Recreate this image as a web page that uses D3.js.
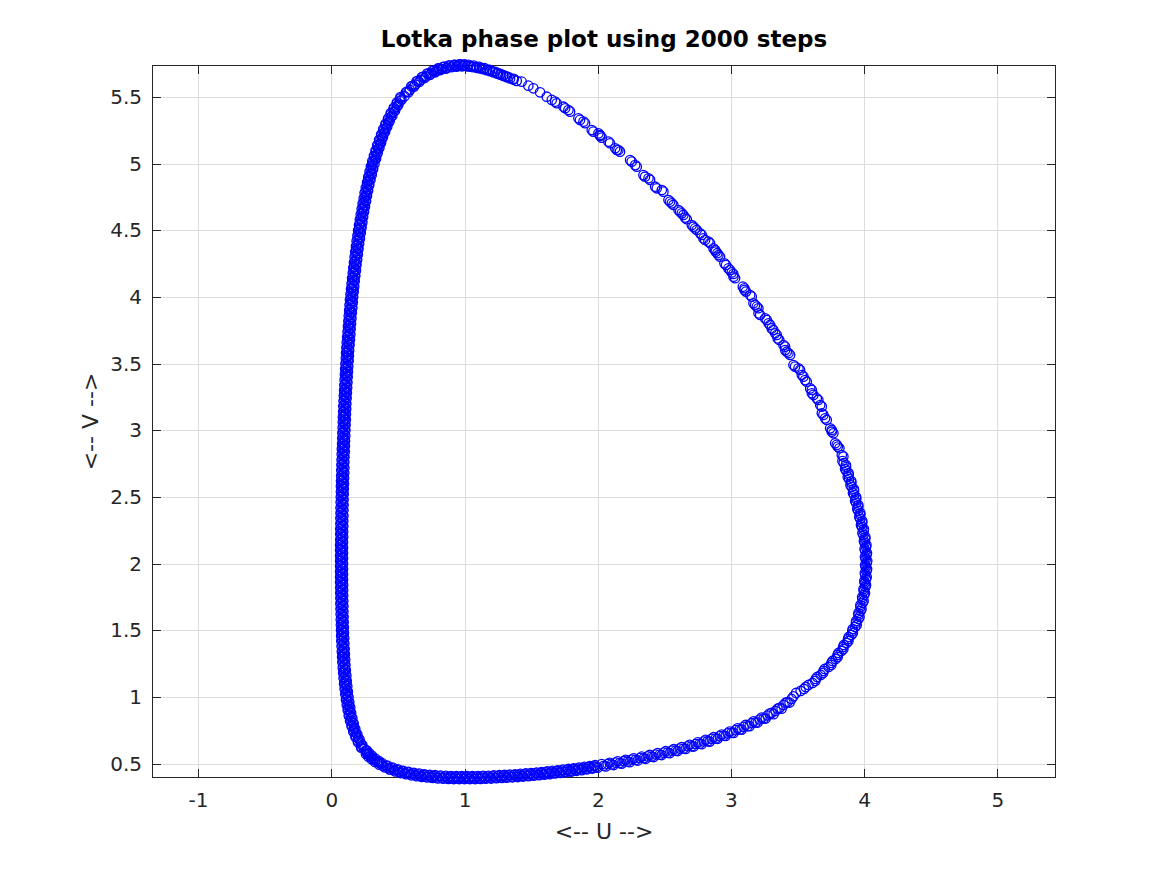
<!DOCTYPE html>
<html><head><meta charset="utf-8">
<script src="https://cdn.jsdelivr.net/npm/d3@7"></script>
<style>body{margin:0;background:#fff}svg{display:block}</style>
</head><body>
<svg id="chart" width="1167" height="875"></svg>
<script>
// ---- text / ticks ----
const titleText = "Lotka phase plot using 2000 steps";
const xLabelText = "<-- U -->";
const yLabelText = "<-- V -->";
const xTicks = [-1, 0, 1, 2, 3, 4, 5];
const yTicks = [0.5, 1, 1.5, 2, 2.5, 3, 3.5, 4, 4.5, 5, 5.5];
const xDomain = [-1.346, 5.44];
const yDomain = [0.392, 5.741];

// ---- data: (U, V) points, by part of the orbit ----
// left branch (V falling), first pass
const vLeft = [5.00,4.98,4.96,4.94,4.92,4.90,4.88,4.86,4.84,4.82,
4.80,4.78,4.76,4.74,4.72,4.70,4.68,4.66,4.64,4.62,
4.60,4.58,4.56,4.54,4.52,4.50,4.48,4.46,4.44,4.42,
4.40,4.38,4.36,4.34,4.32,4.30,4.28,4.26,4.24,4.22,
4.20,4.18,4.16,4.14,4.12,4.10,4.08,4.06,4.04,4.02,
4.00,3.98,3.96,3.94,3.92,3.90,3.88,3.86,3.84,3.82,
3.80,3.78,3.76,3.74,3.72,3.70,3.68,3.66,3.64,3.62,
3.60,3.58,3.56,3.54,3.52,3.50,3.48,3.46,3.44,3.42,
3.40,3.38,3.36,3.34,3.32,3.30,3.28,3.26,3.24,3.22,
3.20,3.18,3.16,3.14,3.12,3.10,3.08,3.06,3.04,3.02,
3.00,2.98,2.96,2.94,2.92,2.90,2.88,2.86,2.84,2.82,
2.80,2.78,2.76,2.74,2.72,2.70,2.68,2.66,2.64,2.62,
2.60,2.58,2.56,2.54,2.52,2.50,2.48,2.46,2.44,2.42,
2.40,2.38,2.36,2.34,2.32,2.30,2.28,2.26,2.24,2.22,
2.20,2.18,2.16,2.14,2.12,2.10,2.08,2.06,2.04,2.02,
2.00,1.98,1.96,1.94,1.92,1.90,1.88,1.86,1.84,1.82,
1.80,1.78,1.76,1.74,1.72,1.70,1.68,1.66,1.64,1.62,
1.60,1.58,1.56,1.54,1.52,1.50,1.48,1.46,1.44,1.42,
1.40,1.38,1.36,1.34,1.32,1.30,1.28,1.26,1.24,1.22,
1.20,1.18,1.16,1.14,1.12,1.10,1.08,1.06,1.04,1.02,
1.00,0.98,0.96,0.94,0.92,0.90,0.88,0.86,0.84,0.82,
0.80,0.78,0.76,0.74,0.72,0.70,0.68,0.66,0.64,0.62,
0.60];
const uLeft = [.324,.297,.314,.287,.304,.277,.294,.268,.285,.259,
.276,.250,.268,.243,.261,.235,.253,.228,.246,.221,
.239,.214,.233,.208,.227,.201,.221,.196,.215,.190,
.209,.185,.204,.180,.199,.175,.194,.170,.189,.165,
.185,.161,.180,.156,.176,.152,.172,.148,.168,.144,
.164,.140,.161,.137,.158,.134,.154,.131,.151,.128,
.148,.125,.145,.122,.143,.119,.140,.116,.137,.113,
.134,.111,.132,.109,.130,.106,.127,.104,.125,.102,
.123,.100,.121,.098,.119,.096,.117,.094,.115,.092,
.113,.090,.112,.089,.110,.087,.109,.086,.107,.085,
.106,.083,.105,.082,.103,.081,.102,.079,.101,.078,
.099,.077,.098,.076,.098,.075,.097,.074,.096,.073,
.095,.072,.094,.072,.093,.071,.092,.070,.092,.069,
.091,.069,.091,.068,.090,.068,.090,.067,.089,.067,
.089,.067,.088,.066,.088,.066,.088,.066,.088,.066,
.088,.066,.088,.066,.088,.066,.088,.066,.089,.067,
.089,.067,.089,.068,.090,.068,.091,.069,.091,.070,
.092,.071,.093,.072,.094,.073,.095,.074,.097,.075,
.098,.077,.100,.079,.102,.081,.104,.083,.106,.086,
.109,.089,.113,.092,.116,.096,.120,.100,.124,.105,
.129,.110,.135,.116,.142,.123,.149,.131,.158,.141,
.168,.152,.180,.165,.195,.181,.212,.200,.233,.224,
.261];
// left branch, second pass (later loop)
const vLeft2 = [4.99,4.97,4.95,4.93,4.91,4.89,4.87,4.85,4.83,4.81,
4.79,4.77,4.75,4.73,4.71,4.69,4.67,4.65,4.63,4.61,
4.59,4.57,4.55,4.53,4.51,4.49,4.47,4.45,4.43,4.41,
4.39,4.37,4.35,4.33,4.31,4.29,4.27,4.25,4.23,4.21,
4.19,4.17,4.15,4.13,4.11,4.09,4.07,4.05,4.03,4.01,
3.99,3.97,3.95,3.93,3.91,3.89,3.87,3.85,3.83,3.81,
3.79,3.77,3.75,3.73,3.71,3.69,3.67,3.65,3.63,3.61,
3.59,3.57,3.55,3.53,3.51,3.49,3.47,3.45,3.43,3.41,
3.39,3.37,3.35,3.33,3.31,3.29,3.27,3.25,3.23,3.21,
3.19,3.17,3.15,3.13,3.11,3.09,3.07,3.05,3.03,3.01,
2.99,2.97,2.95,2.93,2.91,2.89,2.87,2.85,2.83,2.81,
2.79,2.77,2.75,2.73,2.71,2.69,2.67,2.65,2.63,2.61,
2.59,2.57,2.55,2.53,2.51,2.49,2.47,2.45,2.43,2.41,
2.39,2.37,2.35,2.33,2.31,2.29,2.27,2.25,2.23,2.21,
2.19,2.17,2.15,2.13,2.11,2.09,2.07,2.05,2.03,2.01,
1.99,1.97,1.95,1.93,1.91,1.89,1.87,1.85,1.83,1.81,
1.79,1.77,1.75,1.73,1.71,1.69,1.67,1.65,1.63,1.61,
1.59,1.57,1.55,1.53,1.51,1.49,1.47,1.45,1.43,1.41,
1.39,1.37,1.35,1.33,1.31,1.29,1.27,1.25,1.23,1.21,
1.19,1.17,1.15,1.13,1.11,1.09,1.07,1.05,1.03,1.01,
0.99,0.97,0.95,0.93,0.91,0.89,0.87,0.85,0.83,0.81,
0.79,0.77,0.75,0.73,0.71,0.69,0.67,0.65,0.63,0.61];
const uLeft2 = [.306,.311,.296,.301,.286,.291,.276,.282,.267,.273,
.258,.264,.251,.257,.243,.249,.236,.242,.229,.235,
.222,.229,.216,.223,.209,.216,.204,.211,.198,.205,
.192,.200,.187,.195,.182,.190,.177,.185,.172,.180,
.168,.176,.163,.171,.159,.167,.155,.163,.151,.159,
.147,.156,.144,.153,.141,.149,.138,.146,.135,.143,
.132,.140,.129,.138,.126,.135,.123,.132,.120,.129,
.118,.127,.116,.125,.113,.122,.111,.120,.109,.118,
.107,.116,.105,.114,.103,.112,.101,.110,.099,.108,
.097,.106,.096,.105,.094,.103,.093,.102,.091,.101,
.090,.099,.089,.098,.087,.097,.086,.095,.085,.094,
.083,.093,.082,.092,.082,.091,.081,.090,.080,.089,
.079,.088,.078,.088,.077,.087,.076,.086,.076,.085,
.075,.085,.075,.084,.074,.084,.074,.083,.073,.083,
.073,.083,.072,.082,.072,.082,.072,.082,.072,.082,
.072,.082,.072,.082,.072,.082,.072,.083,.073,.083,
.073,.083,.074,.084,.074,.085,.075,.085,.076,.086,
.077,.087,.078,.088,.079,.089,.080,.091,.081,.092,
.083,.094,.085,.096,.087,.098,.089,.100,.091,.103,
.094,.106,.098,.109,.101,.113,.105,.117,.110,.122,
.115,.128,.121,.134,.128,.141,.135,.150,.145,.160,
.155,.171,.168,.185,.183,.202,.201,.222,.224,.248];

// bottom-left corner and bottom branch (U rising)
const uBottom = [.267,.260,.285,.279,.306,.302,.330,.328,.359,.360,
0.38,0.40,0.42,0.44,0.46,0.48,0.50,0.52,0.54,0.56,
0.58,0.60,0.62,0.64,0.66,0.68,0.70,0.72,0.74,0.76,
0.78,0.80,0.82,0.84,0.86,0.88,0.90,0.92,0.94,0.96,
0.98,1.00,1.02,1.04,1.06,1.08,1.10,1.12,1.14,1.16,
1.18,1.20,1.22,1.24,1.26,1.28,1.30,1.32,1.34,1.36,
1.38,1.40,1.42,1.44,1.46,1.48,1.50,1.52,1.54,1.56,
1.58,1.60,1.62,1.64,1.66,1.68,1.70,1.72,1.74,1.76,
1.78,1.80,1.82,1.84,1.86,1.88,1.90,1.92,1.94,1.96,
1.98,2.00,
2.03,2.06,2.09,2.12,2.15,2.18,2.21,2.24,2.27,2.30,
2.33,2.36,2.39,2.42,2.45,2.48,2.51,2.54,2.57,2.60,
2.63,2.66,2.69,2.72,2.75,2.78,2.81,2.84,2.87,2.90,
2.93,2.96,2.99,3.02,3.05,3.08,3.11,3.14,3.17,3.20,
3.23,3.26,3.29,
3.32,3.35,3.38,3.41,3.44,3.47];
const vBottom = [.598,.572,.578,.552,.558,.532,.538,.512,.518,.492,
.504,.472,.485,.455,.470,.441,.457,.429,.446,.420,
.438,.412,.431,.406,.425,.400,.420,.396,.416,.392,
.413,.389,.410,.387,.408,.385,.407,.384,.406,.384,
.406,.384,.406,.384,.406,.384,.407,.385,.408,.387,
.409,.388,.411,.390,.413,.392,.415,.394,.417,.397,
.420,.399,.423,.403,.426,.406,.429,.409,.433,.413,
.437,.417,.441,.421,.446,.426,.450,.430,.455,.435,
.460,.440,.465,.446,.470,.451,.476,.457,.482,.463,
.488,.469,
.496,.479,.506,.489,.517,.500,.528,.511,.539,.523,
.552,.536,.565,.549,.579,.564,.593,.578,.608,.594,
.624,.610,.641,.628,.659,.646,.678,.665,.698,.686,
.718,.707,.740,.730,.765,.755,.790,.781,.817,.808,
.845,.838,.875,
.871,.912,.912,.957,.958,1.005];
// bottom, second pass
const uBottom2 = [.263,.272,.282,.292,.304,.316,.329,.344,.359,.373,
0.39,0.41,0.43,0.45,0.47,0.49,0.51,0.53,0.55,0.57,
0.59,0.61,0.63,0.65,0.67,0.69,0.71,0.73,0.75,0.77,
0.79,0.81,0.83,0.85,0.87,0.89,0.91,0.93,0.95,0.97,
0.99,1.01,1.03,1.05,1.07,1.09,1.11,1.13,1.15,1.17,
1.19,1.21,1.23,1.25,1.27,1.29,1.31,1.33,1.35,1.37,
1.39,1.41,1.43,1.45,1.47,1.49,1.51,1.53,1.55,1.57,
1.59,1.61,1.63,1.65,1.67,1.69,1.71,1.73,1.75,1.77,
1.79,1.81,1.83,1.85,1.87,1.89,1.91,1.93,1.95,1.97,
1.99,
2.045,2.075,2.105,2.135,2.165,2.195,2.225,2.255,2.285,2.315,
2.345,2.375,2.405,2.435,2.465,2.495,2.525,2.555,2.585,2.615,
2.645,2.675,2.705,2.735,2.765,2.795,2.825,2.855,2.885,2.915,
2.945,2.975,3.005,3.035,3.065,3.095,3.125,3.155,3.185,3.215,
3.245,3.275,
3.305,3.335,3.365,3.395,3.425,3.455];
const vBottom2 = [.585,.575,.565,.555,.545,.535,.525,.515,.505,.497,
.483,.484,.465,.467,.450,.454,.438,.443,.428,.434,
.420,.426,.413,.420,.408,.415,.403,.411,.399,.407,
.396,.405,.394,.403,.392,.401,.391,.400,.390,.400,
.390,.400,.390,.400,.390,.401,.391,.402,.392,.403,
.394,.404,.395,.406,.397,.408,.399,.411,.402,.413,
.405,.416,.408,.419,.411,.423,.414,.426,.418,.430,
.422,.434,.426,.438,.431,.443,.435,.448,.440,.453,
.445,.458,.450,.463,.456,.469,.461,.474,.467,.480,
.474,
.484,.497,.494,.507,.504,.518,.516,.530,.528,.542,
.540,.554,.553,.568,.567,.582,.582,.597,.597,.613,
.613,.630,.630,.647,.649,.666,.668,.686,.688,.706,
.709,.727,.731,.751,.756,.776,.781,.803,.808,.831,
.838,.861,
.880,.895,.918,.940,.962,.985];

// right branch (V rising)
const vRight = [1.03,1.06,1.09,1.12,1.15,1.18,1.21,1.24,1.27,1.30,
1.33,1.36,1.39,1.42,1.45,1.48,1.51,1.54,1.57,1.60,
1.63,1.66,1.69,1.72,1.75,1.78,1.81,1.84,1.87,1.90,
1.93,1.96,1.99,2.02,2.05,2.08,2.11,2.14,2.17,2.20,
2.23,2.26,2.29,2.32,2.35,2.38,2.41,2.44,2.47,2.50,
2.53,2.56,2.59,2.62,2.65,2.68,2.71,2.74,2.77];
const uRight = [3.489,3.548,3.582,3.633,3.647,3.692,3.704,3.753,3.762,3.801,
3.807,3.844,3.848,3.882,3.884,3.915,3.914,3.944,3.940,3.965,
3.957,3.980,3.972,3.996,3.985,4.006,3.995,4.014,4.001,4.019,
4.005,4.022,4.007,4.023,4.006,4.021,4.003,4.017,3.998,4.009,
3.987,3.998,3.976,3.986,3.963,3.971,3.948,3.956,3.932,3.940,
3.916,3.923,3.897,3.903,3.877,3.883,3.857,3.863,3.837];
const vRight2 = [1.045,1.075,1.105,1.135,1.165,1.195,1.225,1.255,1.285,1.315,
1.345,1.375,1.405,1.435,1.465,1.495,1.525,1.555,1.585,1.615,
1.645,1.675,1.705,1.735,1.765,1.795,1.825,1.855,1.885,1.915,
1.945,1.975,2.005,2.035,2.065,2.095,2.125,2.155,2.185,2.215,
2.245,2.275,2.305,2.335,2.365,2.395,2.425,2.455,2.485,2.515,
2.545,2.575,2.605,2.635,2.665,2.695,2.725,2.755];
const uRight2 = [3.523,3.561,3.612,3.636,3.674,3.694,3.733,3.754,3.786,3.800,
3.830,3.842,3.869,3.879,3.904,3.911,3.933,3.938,3.957,3.957,
3.973,3.972,3.988,3.987,4.000,3.997,4.009,4.004,4.014,4.008,
4.018,4.011,4.019,4.011,4.018,4.008,4.014,4.004,4.008,3.994,
3.997,3.983,3.985,3.971,3.971,3.956,3.956,3.940,3.940,3.924,
3.924,3.906,3.904,3.886,3.884,3.866,3.864,3.846];

// upper-right diagonal (sparser markers), towards the peak
const uDiag = [3.844,3.814,3.794,3.769,3.757,3.719,3.694,3.682,3.656,3.619,
3.607,3.569,3.544,3.519,3.481,3.444,3.419,3.406,3.363,3.344,
3.318,3.294,3.269,3.219,3.206,3.181,3.156,3.113,3.101,3.031,
3.018,2.993,2.963,2.918,2.898,2.881,2.843,2.806,2.781,2.743,
2.718,2.668,2.643,2.618,2.568,2.543,2.493,2.443,2.393,2.355,
2.293,2.255,2.167,2.143,2.092,2.030,2.017,1.967,1.905,1.867,
1.792,1.755,1.692,1.655,1.617,1.567,1.517,1.479,1.429,1.392,
1.366,1.342,1.317,1.291,1.267,1.242,1.216,1.192,1.167,1.141,
1.116,1.092,1.066,1.041,1.017,
1.03,1.07,1.11,1.15,1.19,1.23,1.27,1.31];
const vDiag = [2.803,2.866,2.891,2.978,3.003,3.078,3.116,3.178,3.228,3.266,
3.303,3.365,3.403,3.453,3.478,3.566,3.590,3.628,3.678,3.716,
3.753,3.791,3.828,3.866,3.916,3.941,4.003,4.041,4.066,4.141,
4.173,4.203,4.241,4.303,4.329,4.353,4.404,4.428,4.466,4.503,
4.528,4.584,4.616,4.641,4.691,4.716,4.791,4.816,4.879,4.903,
4.978,5.016,5.091,5.104,5.154,5.196,5.216,5.241,5.304,5.329,
5.391,5.416,5.454,5.479,5.503,5.536,5.566,5.586,5.616,5.622,
5.632,5.640,5.649,5.659,5.668,5.677,5.686,5.695,5.702,5.709,
5.715,5.720,5.725,5.728,5.731,
5.742,5.737,5.728,5.717,5.705,5.690,5.674,5.657];
const uDiag2 = [3.832,3.802,3.782,3.757,3.745,3.707,3.682,3.670,3.644,3.607,
3.595,3.557,3.532,3.507,3.469,3.432,3.407,3.394,3.351,3.332,
3.306,3.282,3.257,3.207,3.194,3.169,3.144,3.101,3.089,3.019,
3.006,2.981,2.951,2.906,2.886,2.869,2.831,2.794,2.769,2.731,
2.706,2.656,2.631,2.606,2.556,2.531,2.481,2.431,2.381,2.343,
2.281,2.243,2.155,2.131,2.080,2.018,2.005,1.955,1.893,1.855,
1.780,1.743,1.680,
1.005,1.05,1.09,1.13,1.17,1.21,1.25,1.29,1.33,1.37];
const vDiag2 = [2.815,2.878,2.903,2.990,3.015,3.090,3.128,3.190,3.240,3.278,
3.315,3.377,3.415,3.465,3.490,3.578,3.602,3.640,3.690,3.728,
3.765,3.803,3.840,3.878,3.928,3.953,4.015,4.053,4.078,4.153,
4.185,4.215,4.253,4.315,4.341,4.365,4.416,4.440,4.478,4.515,
4.540,4.596,4.628,4.653,4.703,4.728,4.803,4.828,4.891,4.915,
4.990,5.028,5.103,5.116,5.166,5.208,5.228,5.253,5.316,5.341,
5.403,5.428,5.466,
5.738,5.733,5.726,5.716,5.706,5.694,5.680,5.665,5.650,5.638];

// upper-left arc (V rising)
const vTopLeft = [5.02,5.04,5.06,5.08,5.10,5.12,5.14,5.16,5.18,5.20,
5.22,5.24,5.26,5.28,5.30,5.32,5.34,5.36,5.38,5.40,
5.42,5.44,5.46,5.48,5.50];
const uTopLeft = [.308,.336,.320,.348,.332,.361,.345,.374,.359,.388,
.374,.404,.390,.420,.407,.438,.426,.458,.446,.479,
.469,.502,.492,.527,.519];
const vTopLeft2 = [5.01,5.03,5.05,5.07,5.09,5.11,5.13,5.15,5.17,5.19,
5.21,5.23,5.25,5.27,5.29,5.31,5.33,5.35,5.37,5.39,
5.41,5.43,5.45,5.47,5.49];
const uTopLeft2 = [.311,.327,.323,.339,.335,.352,.348,.365,.362,.379,
.376,.394,.392,.410,.409,.428,.427,.447,.447,.468,
.469,.491,.492,.515,.518];

// top arc up to the peak
const uTop = [0.56,0.58,0.60,0.62,0.64,0.66,0.68,0.70,0.72,0.74,
0.76,0.78,0.80,0.82,0.84,0.86,0.88,0.90,0.92,0.94,
0.96,0.98,1.00];
const vTop = [5.536,5.537,5.581,5.579,5.619,5.614,5.651,5.643,5.677,5.667,
5.699,5.686,5.715,5.703,5.727,5.714,5.737,5.724,5.743,5.729,
5.745,5.731,5.745];
const uTop2 = [0.55,0.57,0.59,0.61,0.63,0.65,0.67,0.69,0.71,0.73,
0.75,0.77,0.79,0.81,0.83,0.85,0.87,0.89,0.91,0.93,
0.95,0.97,0.99];
const vTop2 = [5.507,5.542,5.554,5.585,5.594,5.622,5.628,5.652,5.655,5.677,
5.678,5.698,5.697,5.715,5.711,5.727,5.722,5.736,5.730,5.742,
5.734,5.745,5.735];

const parts = [[uLeft, vLeft], [uLeft2, vLeft2], [uBottom, vBottom], [uBottom2, vBottom2],
               [uRight, vRight], [uRight2, vRight2], [uDiag, vDiag], [uDiag2, vDiag2],
               [uTopLeft, vTopLeft], [uTopLeft2, vTopLeft2], [uTop, vTop], [uTop2, vTop2]];
const points = parts.flatMap(([us, vs]) => us.map((u, i) => ({u, v: vs[i]})));

// ---- layout ----
const svg = d3.select("#chart");
const L = 152, R = 1056, T = 65, B = 778;
const x = d3.scaleLinear().domain(xDomain).range([L, R]);
const y = d3.scaleLinear().domain(yDomain).range([B, T]);
const axisColor = "#262626";
const fontFam = "'DejaVu Sans', 'Liberation Sans', sans-serif";

svg.append("rect").attr("width", 1167).attr("height", 875).attr("fill", "#fff");

// grid
const grid = svg.append("g").attr("shape-rendering", "crispEdges");
grid.selectAll(".gx").data(xTicks).join("line")
  .attr("x1", d => Math.round(x(d)) + 0.5).attr("x2", d => Math.round(x(d)) + 0.5)
  .attr("y1", T).attr("y2", B).attr("stroke", "#dcdcdc").attr("stroke-width", 1);
grid.selectAll(".gy").data(yTicks).join("line")
  .attr("y1", d => Math.round(y(d)) + 0.5).attr("y2", d => Math.round(y(d)) + 0.5)
  .attr("x1", L).attr("x2", R).attr("stroke", "#dcdcdc").attr("stroke-width", 1);

// axes (inward ticks on all sides)
function styleAxis(g) {
  g.select(".domain").remove();
  g.selectAll(".tick line").attr("stroke", axisColor).attr("stroke-width", 1);
  g.selectAll("text").attr("fill", axisColor).style("font-family", fontFam).style("font-size", "20px");
  g.attr("shape-rendering", "crispEdges");
}
svg.append("g").attr("transform", `translate(0,${B})`)
  .call(d3.axisBottom(x).tickValues(xTicks).tickSizeInner(-9).tickSizeOuter(0).tickPadding(15).tickFormat(d => String(d)))
  .call(styleAxis);
svg.append("g").attr("transform", `translate(0,${T})`)
  .call(d3.axisTop(x).tickValues(xTicks).tickSizeInner(-9).tickSizeOuter(0).tickFormat(""))
  .call(styleAxis);
svg.append("g").attr("transform", `translate(${L},0)`)
  .call(d3.axisLeft(y).tickValues(yTicks).tickSizeInner(-9).tickSizeOuter(0).tickPadding(10).tickFormat(d => String(d)))
  .call(styleAxis);
svg.append("g").attr("transform", `translate(${R},0)`)
  .call(d3.axisRight(y).tickValues(yTicks).tickSizeInner(-9).tickSizeOuter(0).tickFormat(""))
  .call(styleAxis);

svg.append("rect").attr("x", L + 0.5).attr("y", T + 0.5).attr("width", R - L - 1).attr("height", B - T - 1)
  .attr("fill", "none").attr("stroke", axisColor).attr("stroke-width", 1).attr("shape-rendering", "crispEdges");

// markers
svg.append("g").selectAll("circle").data(points).join("circle")
  .attr("cx", d => x(d.u)).attr("cy", d => y(d.v)).attr("r", 4.7)
  .attr("fill", "none").attr("stroke", "#0000ff").attr("stroke-width", 1.3);

// texts
svg.append("text").attr("x", (L + R) / 2).attr("y", 47).attr("text-anchor", "middle")
  .style("font-family", fontFam).style("font-size", "23px").style("font-weight", "bold")
  .attr("fill", "#000").text(titleText);
svg.append("text").attr("x", (L + R) / 2).attr("y", 839).attr("text-anchor", "middle")
  .style("font-family", fontFam).style("font-size", "22px").attr("fill", axisColor).text(xLabelText);
svg.append("text").attr("transform", `translate(98,${(T + B) / 2}) rotate(-90)`).attr("text-anchor", "middle")
  .style("font-family", fontFam).style("font-size", "22px").attr("fill", axisColor).text(yLabelText);
</script>
</body></html>
